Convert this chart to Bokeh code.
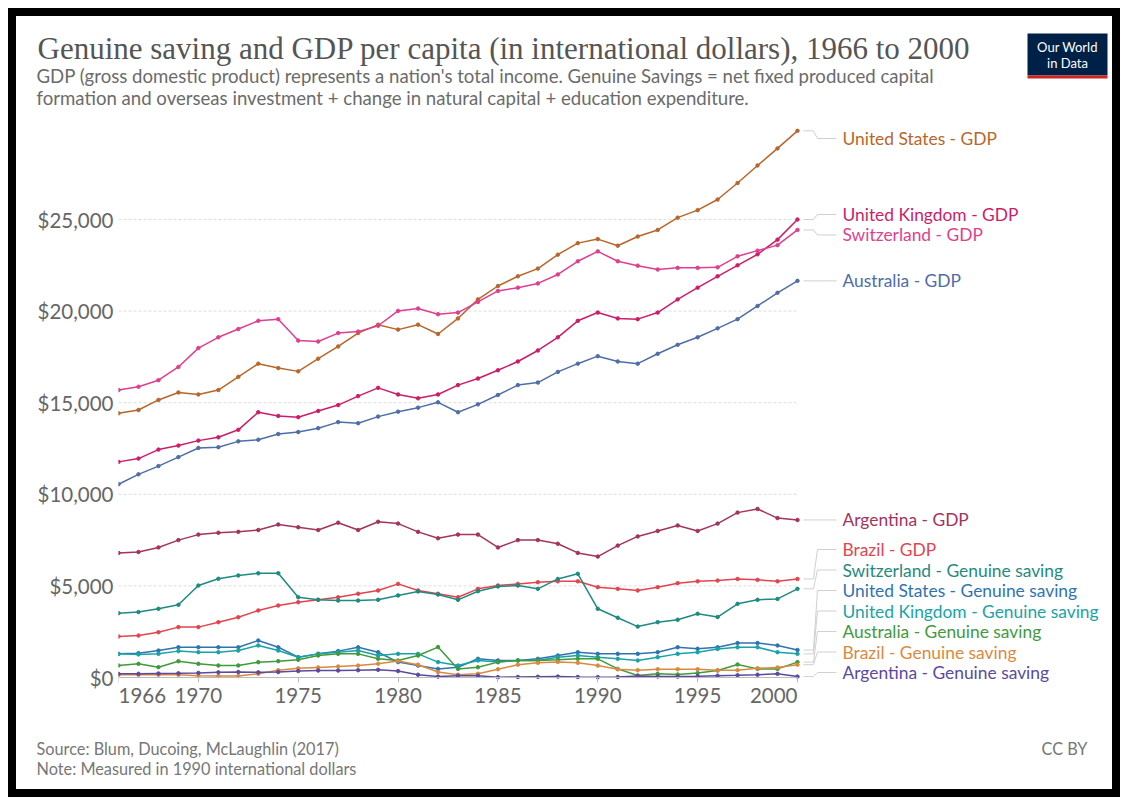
from bokeh.plotting import figure
from bokeh.models import Range1d, FixedTicker, NumeralTickFormatter, ColumnDataSource
from bokeh.layouts import column
from bokeh.embed import file_html
from bokeh.resources import INLINE
from bokeh.core.properties import value

# ---------------- data ----------------
years = list(range(1966, 2001))

us_gdp = [14420, 14600, 15150, 15560, 15450, 15690, 16410, 17130, 16890, 16710,
          17400, 18070, 18800, 19260, 18990, 19260, 18750, 19600, 20640, 21370,
          21900, 22320, 23080, 23710, 23930, 23570, 24070, 24430, 25100, 25510,
          26090, 26990, 27950, 28880, 29840]
uk_gdp = [11770, 11950, 12440, 12660, 12930, 13110, 13520, 14480, 14280, 14210,
          14550, 14870, 15360, 15810, 15450, 15240, 15450, 15960, 16320, 16770,
          17250, 17850, 18570, 19470, 19920, 19600, 19560, 19920, 20640, 21280,
          21900, 22500, 23100, 23900, 25000]
ch_gdp = [15690, 15870, 16230, 16950, 17980, 18570, 19020, 19470, 19560, 18390,
          18340, 18800, 18880, 19200, 20010, 20140, 19830, 19920, 20500, 21100,
          21280, 21510, 22000, 22720, 23260, 22720, 22480, 22270, 22360, 22360,
          22390, 22990, 23300, 23600, 24430]
au_gdp = [10550, 11090, 11540, 12030, 12530, 12570, 12890, 12980, 13290, 13400,
          13610, 13940, 13880, 14240, 14510, 14730, 15020, 14480, 14910, 15420,
          15960, 16100, 16680, 17130, 17540, 17250, 17130, 17670, 18160, 18570,
          19060, 19560, 20280, 21000, 21650]
ar_gdp = [6800, 6850, 7100, 7500, 7800, 7900, 7950, 8050, 8350, 8200,
          8050, 8450, 8050, 8500, 8400, 7950, 7600, 7800, 7800, 7100,
          7500, 7500, 7300, 6800, 6600, 7200, 7700, 8000, 8300, 8000,
          8400, 9000, 9200, 8700, 8600]
br_gdp = [2240, 2290, 2470, 2750, 2750, 3020, 3290, 3660, 3930, 4110,
          4240, 4380, 4570, 4750, 5110, 4750, 4570, 4380, 4840, 5020,
          5110, 5200, 5250, 5250, 4930, 4840, 4750, 4930, 5150, 5250,
          5290, 5380, 5330, 5250, 5380]
ch_sav = [3510, 3570, 3750, 3970, 5020, 5390, 5570, 5690, 5690, 4380,
          4240, 4200, 4200, 4240, 4480, 4700, 4530, 4240, 4710, 4970,
          5020, 4840, 5380, 5660, 3750, 3260, 2780, 3020, 3150, 3480,
          3300, 4020, 4240, 4290, 4840]
us_sav = [1290, 1330, 1470, 1650, 1650, 1650, 1650, 2020, 1650, 1110,
          1290, 1440, 1650, 1380, 840, 650, 470, 560, 1020, 930,
          930, 1020, 1200, 1380, 1290, 1290, 1290, 1380, 1650, 1570,
          1650, 1880, 1880, 1750, 1500]
uk_sav = [1290, 1260, 1290, 1440, 1380, 1380, 1470, 1750, 1470, 1110,
          1290, 1380, 1470, 1200, 1290, 1290, 840, 650, 930, 840,
          930, 930, 1110, 1200, 1110, 1020, 930, 1110, 1290, 1380,
          1560, 1650, 1650, 1380, 1290]
au_sav = [655, 746, 564, 892, 746, 655, 655, 837, 892, 965,
          1200, 1290, 1290, 1020, 930, 1200, 1660, 470, 560, 840,
          930, 930, 970, 1020, 1020, 470, 110, 200, 160, 240,
          380, 710, 470, 470, 840]
br_sav = [150, 150, 150, 150, 100, 80, 80, 200, 400, 500,
          550, 600, 650, 750, 900, 700, 300, 150, 200, 450,
          700, 800, 850, 800, 650, 450, 400, 450, 450, 450,
          400, 400, 500, 550, 700]
ar_sav = [200, 200, 220, 230, 250, 280, 300, 280, 300, 350,
          380, 380, 400, 420, 350, 150, 50, 100, 100, 20,
          30, 40, 50, 30, 20, 30, 80, 60, 50, 70,
          100, 120, 150, 200, 50]

series_names = ["United States - GDP", "United Kingdom - GDP", "Switzerland - GDP",
                "Australia - GDP", "Argentina - GDP", "Brazil - GDP",
                "Switzerland - Genuine saving", "United States - Genuine saving",
                "United Kingdom - Genuine saving", "Australia - Genuine saving",
                "Brazil - Genuine saving", "Argentina - Genuine saving"]
series_values = [us_gdp, uk_gdp, ch_gdp, au_gdp, ar_gdp, br_gdp,
                 ch_sav, us_sav, uk_sav, au_sav, br_sav, ar_sav]
series_colors = ["#b8662a", "#cc1d6a", "#de3f8f", "#4f6da6", "#a3345d", "#e2454f",
                 "#1f8a80", "#2f74b0", "#19a3a6", "#3f9a3c", "#d98a3e", "#5c4aa0"]

x_ticks = [1966, 1970, 1975, 1980, 1985, 1990, 1995, 2000]
x_tick_labels = ["1966", "1970", "1975", "1980", "1985", "1990", "1995", "2000"]
y_ticks = [0, 5000, 10000, 15000, 20000, 25000]

TITLE = "Genuine saving and GDP per capita (in international dollars), 1966 to 2000"
SUB1 = ("GDP (gross domestic product) represents a nation's total income. "
        "Genuine Savings = net fixed produced capital")
SUB2 = "formation and overseas investment + change in natural capital + education expenditure."
SOURCE = "Source: Blum, Ducoing, McLaughlin (2017)"
NOTE = "Note: Measured in 1990 international dollars"
LICENSE = "CC BY"

# ---------------- geometry (pixels) ----------------
W = 1096
HEAD_H, MAIN_H, FOOT_H = 100, 614, 59
FL = 102                     # left panel of main plot (y labels)
FW = W - FL
PX_PER_YEAR = 19.97
ZERO_PX = 561                # $0 position inside main figure
PX_PER_DOLLAR = 0.01832
X0, X_LAST = years[0], years[-1]
X_START = X0
X_END = X0 + FW / PX_PER_YEAR
Y_TOP = ZERO_PX / PX_PER_DOLLAR
Y_BOTTOM = -(MAIN_H - ZERO_PX) / PX_PER_DOLLAR


def dy(py):
    return (ZERO_PX - py) / PX_PER_DOLLAR


def yrs(npx):
    return npx / PX_PER_YEAR


def dol(npx):
    return npx / PX_PER_DOLLAR


FONT = value("Lato")

# ---------------- header ----------------
head = figure(width=W, height=HEAD_H, x_range=Range1d(0, W), y_range=Range1d(HEAD_H, 0),
              x_axis_type=None, y_axis_type=None, output_backend="svg", toolbar_location=None,
              min_border=0, frame_align=False)
head.outline_line_color = None
head.text(x=[21], y=[32], text=[TITLE], text_font=value("Liberation Serif"),
          text_font_size="31px", text_color="#555555", text_baseline="alphabetic")
head.text(x=[20, 20], y=[59, 81], text=[SUB1, SUB2], text_font=FONT,
          text_font_size="18.6px", text_color="#6b6b6b", text_baseline="middle")
head.quad(left=[1011], right=[1091], top=[17], bottom=[59], fill_color="#002147", line_color=None)
head.quad(left=[1011], right=[1091], top=[59], bottom=[62], fill_color="#ce261e", line_color=None)
head.text(x=[1051, 1051], y=[30, 46], text=["Our World", "in Data"], text_font=FONT,
          text_font_size="13px", text_color="white", text_align="center", text_baseline="middle")

# ---------------- main plot ----------------
p = figure(width=W, height=MAIN_H, x_range=Range1d(X_START, X_END),
           y_range=Range1d(Y_BOTTOM, Y_TOP), output_backend="svg", toolbar_location=None,
           min_border_left=FL, min_border_right=0, min_border_top=0, min_border_bottom=0,
           frame_align=False)
p.outline_line_color = None
p.xgrid.visible = False
p.ygrid.visible = False

grid_y = [t for t in y_ticks if t > 0]
p.segment(x0=[X0] * len(grid_y), x1=[X_LAST] * len(grid_y), y0=grid_y, y1=grid_y,
          line_color="#dddddd", line_dash="3 2", line_width=1)

p.xaxis.fixed_location = 0
p.xaxis.ticker = FixedTicker(ticks=x_ticks)
p.xaxis.bounds = (X0, X_LAST)
p.xaxis.axis_line_color = "#bbbbbb"
p.xaxis.major_tick_line_color = "#bbbbbb"
p.xaxis.major_tick_out = 5
p.xaxis.major_tick_in = 0
p.xaxis.minor_tick_line_color = None
p.xaxis.major_label_standoff = 5
p.xaxis.major_label_text_font = "Lato"
p.xaxis.major_label_text_font_size = "20.5px"
p.xaxis.major_label_text_color = "#666666"
ov = {t: l for t, l in zip(x_ticks, x_tick_labels)}
ov[x_ticks[0]] = ""
ov[x_ticks[-1]] = ""
p.xaxis.major_label_overrides = ov

p.yaxis.ticker = FixedTicker(ticks=y_ticks)
p.yaxis.formatter = NumeralTickFormatter(format="$0,0")
p.yaxis.axis_line_color = None
p.yaxis.major_tick_line_color = None
p.yaxis.minor_tick_line_color = None
p.yaxis.major_tick_out = 0
p.yaxis.major_tick_in = 0
p.yaxis.major_label_standoff = 5
p.yaxis.major_label_text_font = "Lato"
p.yaxis.major_label_text_font_size = "20.5px"
p.yaxis.major_label_text_color = "#666666"

# end tick labels aligned to the data extent
p.text(x=[x_ticks[0], x_ticks[-1]], y=[-dol(10)] * 2,
       text=[x_tick_labels[0], x_tick_labels[-1]], text_align=["left", "right"],
       text_baseline="top", text_font=FONT, text_font_size="20.5px", text_color="#666666")

for name, vals, col in zip(series_names, series_values, series_colors):
    src = ColumnDataSource(dict(x=years, y=vals))
    p.line("x", "y", source=src, line_color=col, line_width=1.5)
    p.scatter("x", "y", source=src, size=3.5, color=col)

# line labels, de-overlapped
ends = [v[-1] for v in series_values]
S = dol(20.5)
LO = dy(ZERO_PX - 5)
HI = dy(22)
order = sorted(range(len(ends)), key=lambda i: -ends[i])
clusters = [[i] for i in order]


def place(cl):
    pos = {}
    for c in cl:
        mean = sum(ends[i] for i in c) / len(c)
        top = min(mean + (len(c) - 1) * S / 2, HI)
        bottom = top - (len(c) - 1) * S
        if bottom < LO:
            bottom = LO
            top = bottom + (len(c) - 1) * S
        for k, i in enumerate(c):
            pos[i] = top - k * S
    return pos


while True:
    pos = place(clusters)
    merged = False
    for k in range(len(clusters) - 1):
        a, b = clusters[k], clusters[k + 1]
        if pos[a[-1]] - pos[b[0]] < S - 1e-6:
            clusters[k] = a + b
            del clusters[k + 1]
            merged = True
            break
    if not merged:
        break

label_y = [pos[i] for i in range(len(ends))]
xs, ys = [], []
for e, ly in zip(ends, label_y):
    xs.append([X_LAST + yrs(6), X_LAST + yrs(16), X_LAST + yrs(20), X_LAST + yrs(39)])
    ys.append([e, e, ly, ly])
p.multi_line(xs, ys, line_color="#d0d0d0", line_width=1)

lsrc = ColumnDataSource(dict(x=[X_LAST + yrs(45)] * len(ends), y=label_y,
                             t=series_names, c=series_colors))
p.text("x", "y", text="t", source=lsrc, text_color="c", text_font=FONT,
       text_font_size="17.4px", text_baseline="middle", text_align="left")

# ---------------- footer ----------------
foot = figure(width=W, height=FOOT_H, x_range=Range1d(0, W), y_range=Range1d(FOOT_H, 0),
              x_axis_type=None, y_axis_type=None, output_backend="svg", toolbar_location=None,
              min_border=0, frame_align=False)
foot.outline_line_color = None
foot.text(x=[20, 20], y=[18, 38], text=[SOURCE, NOTE], text_font=FONT,
          text_font_size="16.3px", text_color="#777777", text_baseline="middle")
foot.text(x=[1071], y=[18], text=[LICENSE], text_font=FONT, text_align="right",
          text_font_size="16.3px", text_color="#777777", text_baseline="middle")

root = column(head, p, foot, spacing=0,
              styles={"border": "8px solid black", "margin": "8px 0 0 8px"})
open("out.html", "w").write(file_html(root, INLINE))
